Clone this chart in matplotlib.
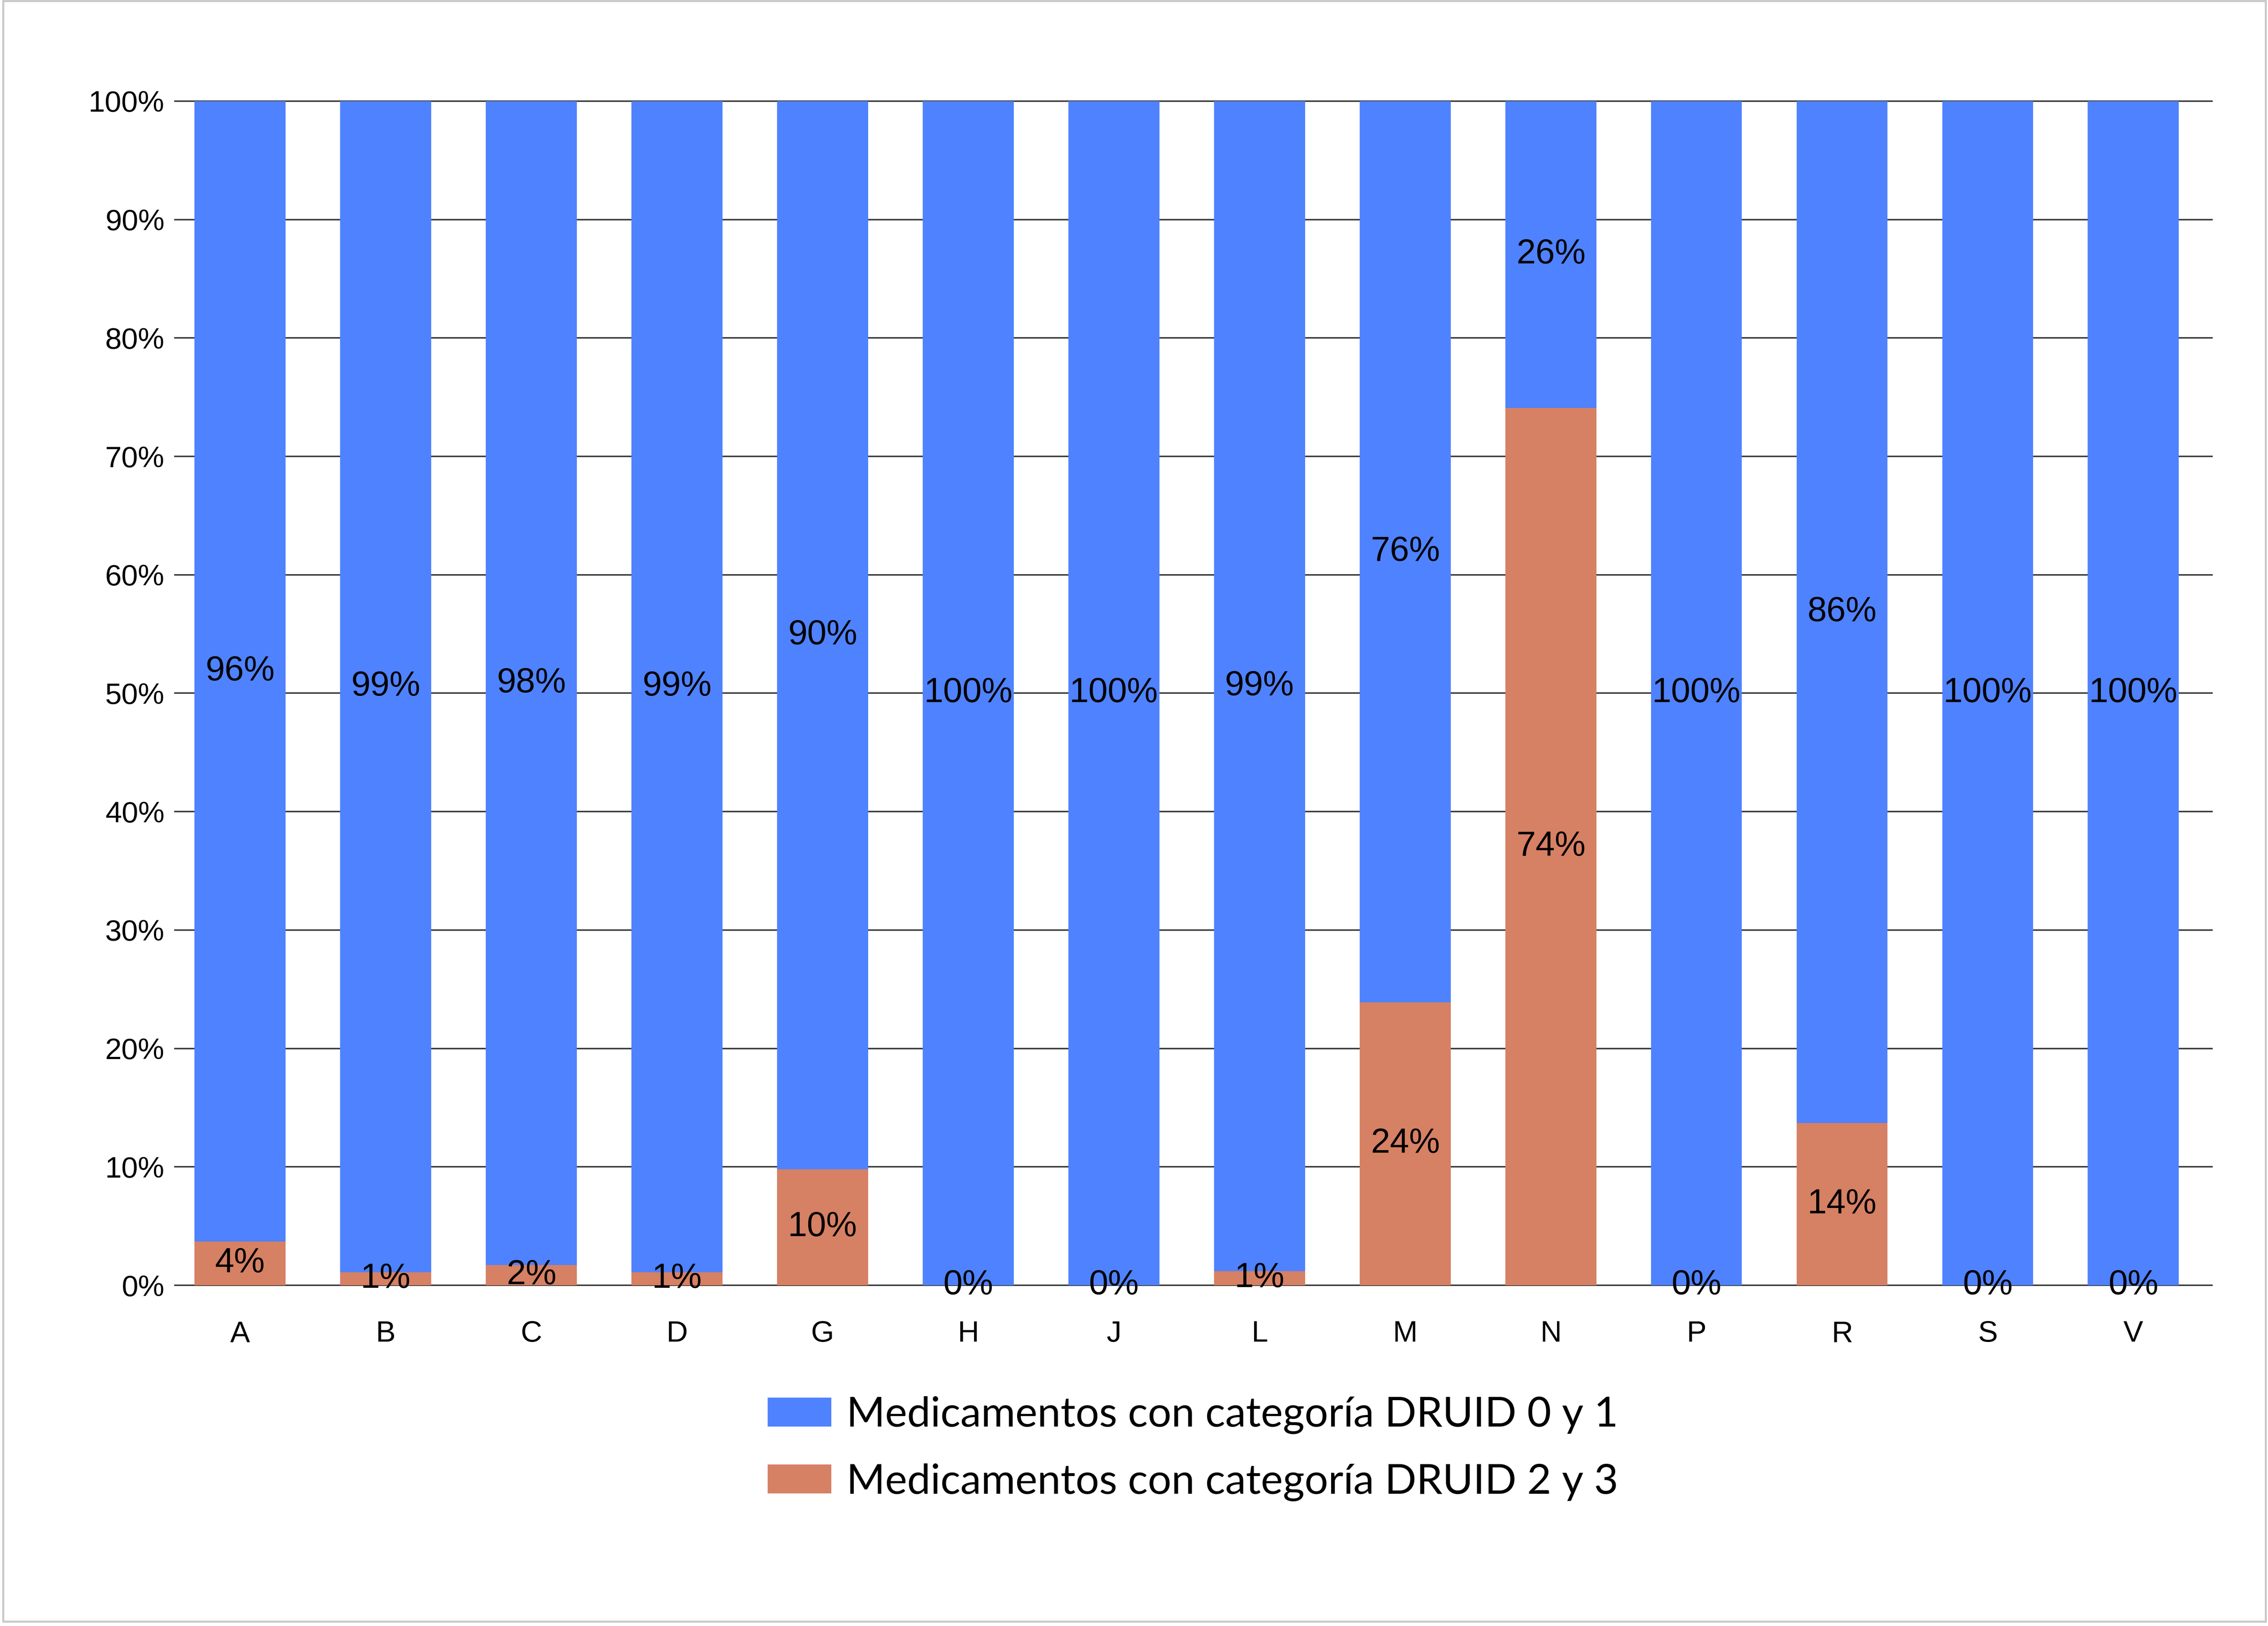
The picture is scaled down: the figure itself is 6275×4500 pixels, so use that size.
import matplotlib
matplotlib.use("Agg")
import matplotlib.pyplot as plt
from matplotlib.patches import Rectangle

categories = ["A", "B", "C", "D", "G", "H", "J", "L", "M", "N", "P", "R", "S", "V"]
druid_23 = [3.7, 1.1, 1.7, 1.1, 9.8, 0.0, 0.0, 1.2, 23.9, 74.1, 0.0, 13.7, 0.0, 0.0]
druid_01 = [100 - v for v in druid_23]
series_names = ["Medicamentos con categoría DRUID 0 y 1",
                "Medicamentos con categoría DRUID 2 y 3"]
y_ticks = [0, 10, 20, 30, 40, 50, 60, 70, 80, 90, 100]

blue = "#4f82ff"
orange = "#d68064"

W, H = 6275, 4500
fig = plt.figure(figsize=(W / 100, H / 100), dpi=100)
fig.patch.set_facecolor("white")
fig.patches.append(Rectangle((9 / W, 12 / H), (6269 - 9) / W, (4497 - 12) / H,
                             transform=fig.transFigure, fill=False,
                             edgecolor="#c8c8c8", linewidth=4))

ax = fig.add_axes([484 / W, 1 - 3557 / H, (6120 - 484) / W, (3557 - 280) / H])
x = list(range(len(categories)))

for t in y_ticks:
    ax.axhline(t, color="#3a3a3a", linewidth=3, zorder=0, clip_on=False)

b2 = ax.bar(x, druid_23, width=0.625, color=orange, zorder=2,
            label=series_names[1])
b1 = ax.bar(x, druid_01, bottom=druid_23, width=0.625, color=blue, zorder=2,
            label=series_names[0])

ax.bar_label(b1, labels=[f"{round(v)}%" for v in druid_01], label_type="center",
             fontfamily="Liberation Sans", fontsize=69, zorder=5)
ax.bar_label(b2, labels=[f"{round(v)}%" for v in druid_23], label_type="center",
             fontfamily="Liberation Sans", fontsize=69, zorder=5)

ax.set_xlim(-0.447, 13.54)
ax.set_ylim(0, 100)
ax.set_yticks(y_ticks)
ax.set_yticklabels([f"{t}%" for t in y_ticks], fontfamily="Liberation Sans",
                   fontsize=59)
ax.set_xticks(x)
ax.set_xticklabels(categories, fontfamily="Liberation Sans", fontsize=59)
ax.tick_params(axis="both", length=0)
ax.tick_params(axis="y", pad=21)
ax.tick_params(axis="x", pad=70)
for s in ax.spines.values():
    s.set_visible(False)

fig.legend(handles=[b1, b2], labels=series_names, loc="center",
           bbox_to_anchor=(0.526, 0.109), frameon=False,
           prop={"family": "Lato", "size": 83},
           handlelength=1.53, handleheight=0.69, handletextpad=0.36,
           labelspacing=0.70, borderpad=0)

fig.savefig("out.png", dpi=100, facecolor="white")
